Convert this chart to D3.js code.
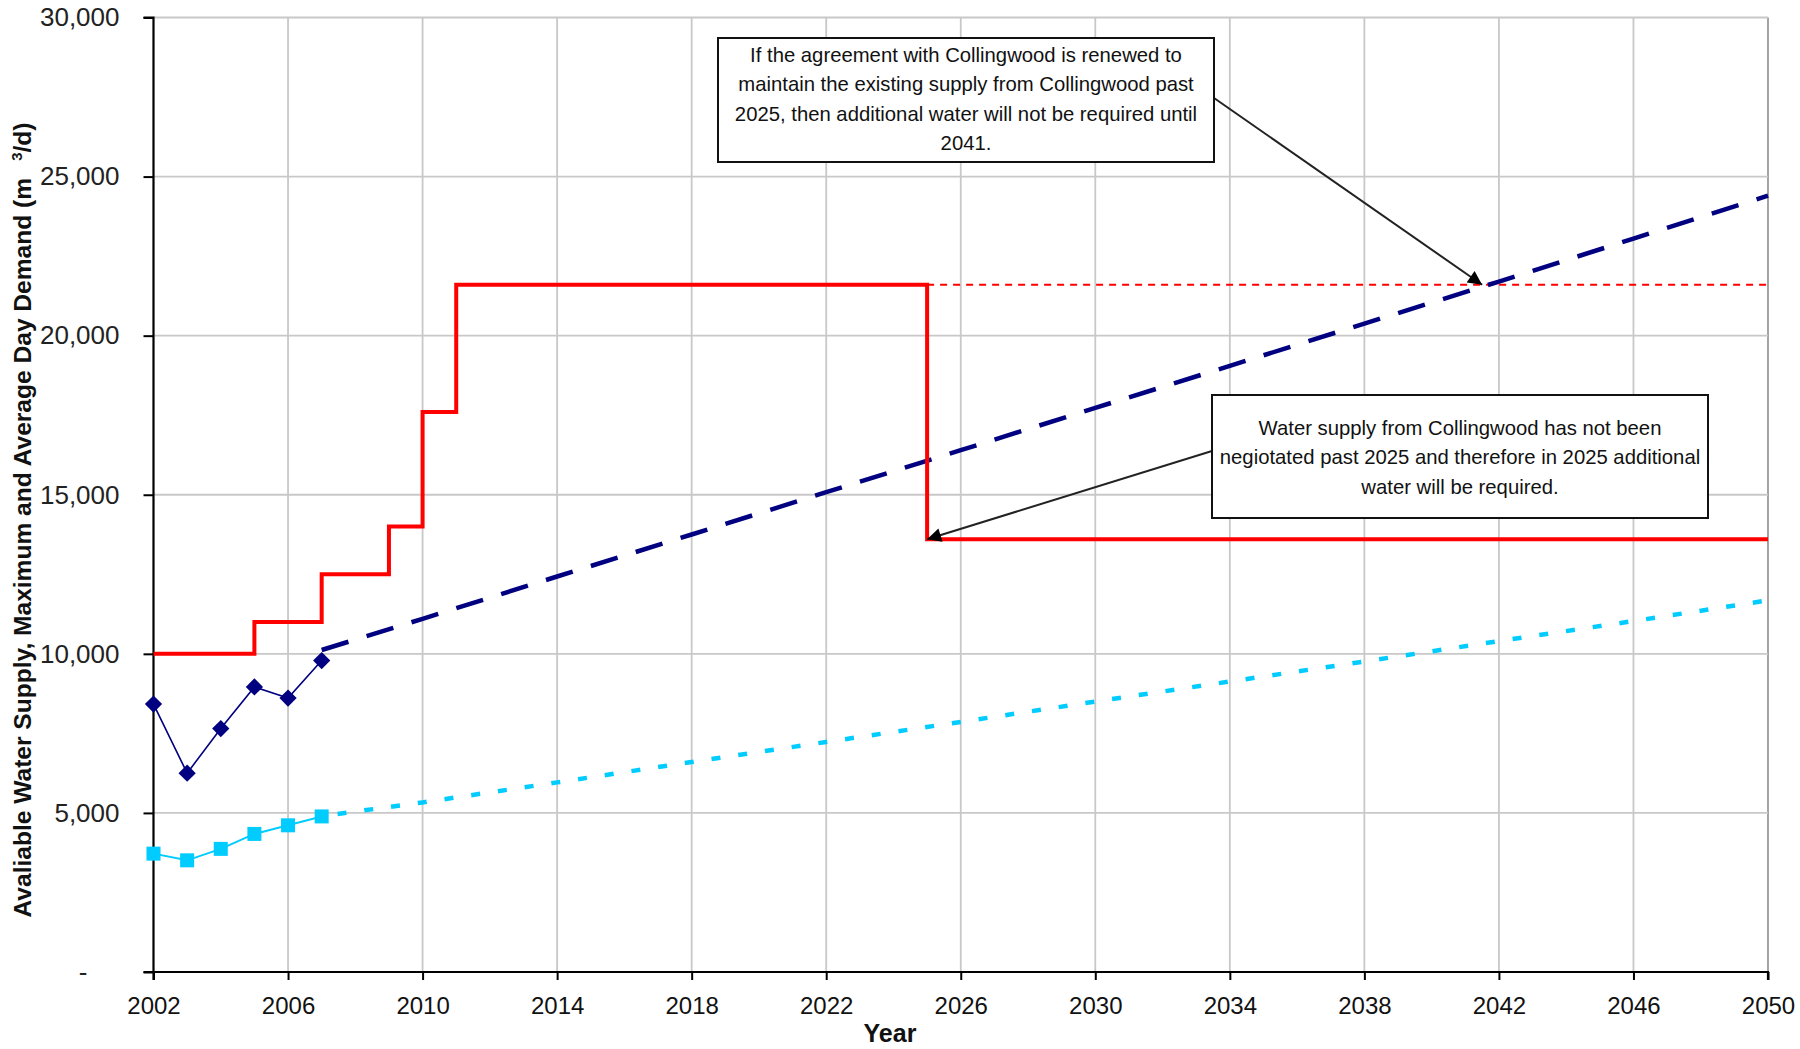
<!DOCTYPE html>
<html>
<head>
<meta charset="utf-8">
<script src="https://cdn.jsdelivr.net/npm/d3@7.9.0/dist/d3.min.js"></script>
<style>
  body { margin: 0; background: #fff; }
  svg { display: block; }
</style>
</head>
<body>
<svg id="chart" width="1800" height="1049"></svg>
<script>
// ---------- DATA ----------
// available supply (red step line)
const supplyYears = [2002, 2005, 2007, 2009, 2010, 2011, 2025, 2050];
const supplyValues = [10000, 11000, 12500, 14000, 17600, 21600, 13600, 13600];
// supply if Collingwood agreement renewed (thin red dashes)
const renewedYears = [2025, 2050];
const renewedValues = [21600, 21600];

// historic demand 2002-2007
const histYears = [2002, 2003, 2004, 2005, 2006, 2007];
const maxDayHist = [8420, 6250, 7650, 8960, 8610, 9790];
const avgDayHist = [3720, 3510, 3870, 4340, 4610, 4890];

// projected demand
const projYears = [2007, 2010, 2014, 2018, 2022, 2026, 2030, 2034, 2038, 2042, 2046, 2050];
const maxDayProj = [10120, 11100, 12430, 13750, 15080, 16400, 17730, 19050, 20380, 21700, 23050, 24400];
const avgDayProj = [4900, 5330, 5960, 6600, 7230, 7860, 8500, 9130, 9760, 10400, 11030, 11680];

const xTicks = [2002, 2006, 2010, 2014, 2018, 2022, 2026, 2030, 2034, 2038, 2042, 2046, 2050];
const yTicks = [0, 5000, 10000, 15000, 20000, 25000, 30000];

const note1 = ["If the agreement with Collingwood is renewed to",
  "maintain the existing supply from Collingwood past",
  "2025, then additional water will not be required until",
  "2041."];
const note2 = ["Water supply from Collingwood has not been",
  "negiotated past 2025 and therefore in 2025 additional",
  "water will be required."];

// ---------- LAYOUT ----------
const plotLeft = 153.5, plotRight = 1768, plotTop = 17.5, plotBottom = 972;
const svg = d3.select("#chart");

const x = d3.scaleLinear().domain([2002, 2050]).range([plotLeft, plotRight]);
const y = d3.scaleLinear().domain([0, 30000]).range([plotBottom, plotTop]);

// gridlines
svg.append("g").selectAll("line")
  .data(xTicks.slice(1))
  .join("line")
  .attr("x1", d => x(d)).attr("x2", d => x(d))
  .attr("y1", plotTop).attr("y2", plotBottom)
  .attr("stroke", d => d === 2050 ? "#9a9a9a" : "#c8c8c8")
  .attr("stroke-width", 1.8);

svg.append("g").selectAll("line")
  .data(yTicks.slice(1))
  .join("line")
  .attr("x1", plotLeft).attr("x2", plotRight)
  .attr("y1", d => y(d)).attr("y2", d => y(d))
  .attr("stroke", "#c8c8c8")
  .attr("stroke-width", 1.8);

// ---------- AXES ----------
const yAxis = svg.append("g")
  .attr("transform", `translate(${plotLeft},0)`)
  .call(d3.axisLeft(y).tickValues(yTicks).tickSize(10).tickPadding(24)
    .tickFormat(d => d === 0 ? "-" : d3.format(",")(d)));
yAxis.selectAll("text")
  .attr("font-family", "'Liberation Sans', Arial, sans-serif")
  .attr("font-size", 26).attr("fill", "#222");
yAxis.selectAll(".tick").filter(d => d === 0).select("text").attr("x", -66);

const xAxis = svg.append("g")
  .attr("transform", `translate(0,${plotBottom})`)
  .call(d3.axisBottom(x).tickValues(xTicks).tickSize(8).tickPadding(17)
    .tickFormat(d3.format("d")));
xAxis.selectAll("text")
  .attr("font-family", "'Liberation Sans', Arial, sans-serif")
  .attr("font-size", 24).attr("fill", "#111");

[yAxis, xAxis].forEach(g => {
  g.selectAll("path.domain").attr("stroke", "#000").attr("stroke-width", 2.2);
  g.selectAll(".tick line").attr("stroke", "#000").attr("stroke-width", 2);
});
yAxis.select("path.domain").attr("d", `M-10,${plotBottom}H0V${plotTop}H-10`);
xAxis.select("path.domain").attr("d", `M${plotLeft},8V0H${plotRight}V8`);

// axis titles
svg.append("text")
  .attr("x", 890).attr("y", 1042)
  .attr("text-anchor", "middle")
  .attr("font-family", "'Liberation Sans', Arial, sans-serif")
  .attr("font-weight", "bold").attr("font-size", 25)
  .attr("fill", "#111")
  .text("Year");

const yTitle = svg.append("text")
  .attr("transform", "translate(31,520) rotate(-90)")
  .attr("text-anchor", "middle")
  .attr("font-family", "'Liberation Sans Narrow', 'Arial Narrow', 'Liberation Sans', sans-serif")
  .attr("font-weight", "bold").attr("font-size", 23)
  .attr("fill", "#111")
  .attr("textLength", 795).attr("lengthAdjust", "spacingAndGlyphs");
yTitle.append("tspan").text("Avaliable Water Supply, Maximum and Average Day Demand (m");
yTitle.append("tspan").attr("dx", 16).attr("dy", -9).attr("font-size", 14).text("3");
yTitle.append("tspan").attr("dy", 9).text("/d)");

// ---------- SERIES ----------
const line = d3.line().x(d => x(d[0])).y(d => y(d[1]));
const stepLine = d3.line().x(d => x(d[0])).y(d => y(d[1])).curve(d3.curveStepAfter);

// renewed supply (thin red dashes)
svg.append("path")
  .datum(d3.zip(renewedYears, renewedValues))
  .attr("fill", "none").attr("stroke", "#ff0000")
  .attr("stroke-width", 2).attr("stroke-dasharray", "7,6")
  .attr("d", line);

// average day projection (light blue dotted)
svg.append("path")
  .datum(d3.zip(projYears, avgDayProj))
  .attr("fill", "none").attr("stroke", "#00ccff")
  .attr("stroke-width", 4.5).attr("stroke-dasharray", "9,18")
  .attr("stroke-dashoffset", -16)
  .attr("d", line);

// max day projection (navy dashed)
svg.append("path")
  .datum(d3.zip(projYears, maxDayProj))
  .attr("fill", "none").attr("stroke", "#000080")
  .attr("stroke-width", 4.5).attr("stroke-dasharray", "28,19")
  .attr("d", line);

// available supply (red step)
svg.append("path")
  .datum(d3.zip(supplyYears, supplyValues))
  .attr("fill", "none").attr("stroke", "#ff0000")
  .attr("stroke-width", 4)
  .attr("d", stepLine);

// historic average day (light blue squares)
svg.append("path")
  .datum(d3.zip(histYears, avgDayHist))
  .attr("fill", "none").attr("stroke", "#00ccff")
  .attr("stroke-width", 2)
  .attr("d", line);
svg.append("g").selectAll("rect")
  .data(d3.zip(histYears, avgDayHist))
  .join("rect")
  .attr("x", d => x(d[0]) - 7).attr("y", d => y(d[1]) - 7)
  .attr("width", 14).attr("height", 14)
  .attr("fill", "#00ccff");

// historic max day (navy diamonds)
svg.append("path")
  .datum(d3.zip(histYears, maxDayHist))
  .attr("fill", "none").attr("stroke", "#000080")
  .attr("stroke-width", 1.6)
  .attr("d", line);
svg.append("g").selectAll("path")
  .data(d3.zip(histYears, maxDayHist))
  .join("path")
  .attr("transform", d => `translate(${x(d[0])},${y(d[1])})`)
  .attr("d", d3.symbol(d3.symbolDiamond2, 190))
  .attr("fill", "#000080");

// ---------- ANNOTATIONS ----------
svg.append("defs").append("marker")
  .attr("id", "arrow")
  .attr("viewBox", "0 0 10 10")
  .attr("refX", 10).attr("refY", 5)
  .attr("markerWidth", 18).attr("markerHeight", 14)
  .attr("markerUnits", "userSpaceOnUse")
  .attr("orient", "auto")
  .append("path")
  .attr("d", "M0,0L10,5L0,10z")
  .attr("fill", "#000");

function note(lines, bx, by, bw, bh, ty, arrowFrom, arrowTo) {
  svg.append("line")
    .attr("x1", arrowFrom[0]).attr("y1", arrowFrom[1])
    .attr("x2", x(arrowTo[0])).attr("y2", y(arrowTo[1]))
    .attr("stroke", "#222").attr("stroke-width", 2)
    .attr("marker-end", "url(#arrow)");
  svg.append("rect")
    .attr("x", bx).attr("y", by).attr("width", bw).attr("height", bh)
    .attr("fill", "#fff").attr("stroke", "#111").attr("stroke-width", 2);
  svg.append("g").selectAll("text")
    .data(lines)
    .join("text")
    .attr("x", bx + bw / 2)
    .attr("y", (d, i) => ty + i * 29.3)
    .attr("text-anchor", "middle")
    .attr("font-family", "'Liberation Sans', Tahoma, sans-serif")
    .attr("font-size", 20.3)
    .attr("fill", "#111")
    .text(d => d);
}

note(note1, 718, 38, 496, 124, 62, [1214, 98], [2041.5, 21600]);
note(note2, 1212, 395, 496, 123, 435, [1212, 451], [2025, 13600]);
</script>
</body>
</html>
